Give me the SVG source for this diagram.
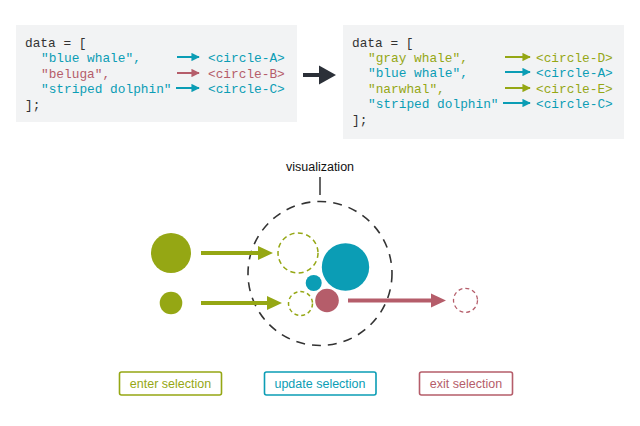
<svg xmlns="http://www.w3.org/2000/svg" width="640" height="426" viewBox="0 0 640 426">
<style>
.code{font-family:"Liberation Mono","DejaVu Sans Mono",monospace;font-size:12.8px;fill:#333}
.g{fill:#95a714}.t{fill:#0b9db5}.p{fill:#b55d6a}
.lbl{font-family:"Liberation Sans",Arial,sans-serif;font-size:12.5px;text-anchor:middle}
.sa{stroke-width:2;fill:none}
</style>
<defs>
<marker id="hg" viewBox="0 0 10 10" refX="9" refY="5" markerWidth="4.2" markerHeight="4.2" orient="auto" markerUnits="strokeWidth"><path d="M0,0L10,5L0,10z" fill="#95a714"/></marker>
<marker id="ht" viewBox="0 0 10 10" refX="9" refY="5" markerWidth="4.2" markerHeight="4.2" orient="auto" markerUnits="strokeWidth"><path d="M0,0L10,5L0,10z" fill="#0b9db5"/></marker>
<marker id="hp" viewBox="0 0 10 10" refX="9" refY="5" markerWidth="4.2" markerHeight="4.2" orient="auto" markerUnits="strokeWidth"><path d="M0,0L10,5L0,10z" fill="#b55d6a"/></marker>
</defs>
<rect width="640" height="426" fill="#fff"/>

<g id="old-data">
<rect x="16" y="25" width="281" height="97" fill="#f2f3f4"/>
<text class="code" x="25" y="47">data = [</text>
<text class="code t" x="41" y="62">"blue whale",</text>
<text class="code p" x="41" y="78">"beluga",</text>
<text class="code t" x="41" y="93">"striped dolphin"</text>
<text class="code" x="25" y="109">];</text>
<text class="code t" x="208" y="62">&lt;circle-A&gt;</text>
<text class="code p" x="208" y="78">&lt;circle-B&gt;</text>
<text class="code t" x="208" y="93">&lt;circle-C&gt;</text>
</g>

<g id="new-data">
<rect x="343" y="25" width="281" height="114" fill="#f2f3f4"/>
<text class="code" x="352" y="47">data = [</text>
<text class="code g" x="368" y="62">"gray whale",</text>
<text class="code t" x="368" y="77">"blue whale",</text>
<text class="code g" x="368" y="93">"narwhal",</text>
<text class="code t" x="368" y="108">"striped dolphin"</text>
<text class="code" x="352" y="124">];</text>
<text class="code g" x="536" y="62">&lt;circle-D&gt;</text>
<text class="code t" x="536" y="77">&lt;circle-A&gt;</text>
<text class="code g" x="536" y="93">&lt;circle-E&gt;</text>
<text class="code t" x="536" y="108">&lt;circle-C&gt;</text>
</g>

<g id="visualization">
<text x="320" y="171" font-family="Liberation Sans, Arial, sans-serif" font-size="12.5" text-anchor="middle" fill="#111">visualization</text>
<line x1="320" y1="177" x2="320" y2="195" stroke="#333" stroke-width="1.5"/>
<circle cx="320" cy="273.5" r="72" fill="none" stroke="#333" stroke-width="1.6" stroke-dasharray="9,7"/>
</g>

<g id="enter-circles">
<circle cx="171" cy="253" r="20" class="g"/>
<circle cx="171" cy="303" r="11.3" class="g"/>
<circle cx="298" cy="253" r="20" fill="none" stroke="#95a714" stroke-width="1.5" stroke-dasharray="5,3.5"/>
<circle cx="300.5" cy="303.5" r="12" fill="none" stroke="#95a714" stroke-width="1.5" stroke-dasharray="4,3"/>
</g>

<g id="update-circles">
<circle cx="345.5" cy="267" r="23.7" class="t"/>
<circle cx="313.7" cy="283" r="8" class="t"/>
</g>

<g id="exit-circles">
<circle cx="327" cy="300.5" r="11.8" class="p"/>
<circle cx="465.5" cy="300.3" r="12" fill="none" stroke="#b55d6a" stroke-width="1.3" stroke-dasharray="4,3"/>
</g>

<g id="connectors">
<line x1="303" y1="75" x2="320" y2="75" stroke="#2b3038" stroke-width="4"/>
<path d="M319,65.5L336,75L319,84.5z" fill="#2b3038"/>

<line x1="177" y1="57" x2="199" y2="57" stroke="#0b9db5" class="sa" marker-end="url(#ht)"/>
<line x1="177" y1="73" x2="199" y2="73" stroke="#b55d6a" class="sa" marker-end="url(#hp)"/>
<line x1="176" y1="88" x2="199" y2="88" stroke="#0b9db5" class="sa" marker-end="url(#ht)"/>

<line x1="505" y1="57" x2="530" y2="57" stroke="#95a714" class="sa" marker-end="url(#hg)"/>
<line x1="505" y1="72" x2="530" y2="72" stroke="#0b9db5" class="sa" marker-end="url(#ht)"/>
<line x1="505" y1="88" x2="530" y2="88" stroke="#95a714" class="sa" marker-end="url(#hg)"/>
<line x1="503" y1="103" x2="530" y2="103" stroke="#0b9db5" class="sa" marker-end="url(#ht)"/>

<line x1="201" y1="253" x2="260" y2="253" stroke="#95a714" stroke-width="4"/>
<path d="M258,246L273,253L258,260z" fill="#95a714"/>
<line x1="201" y1="303" x2="269" y2="303" stroke="#95a714" stroke-width="4"/>
<path d="M267,296L282,303L267,310z" fill="#95a714"/>
<line x1="348" y1="300.5" x2="433" y2="300.5" stroke="#b55d6a" stroke-width="4"/>
<path d="M431,293.5L446,300.5L431,307.5z" fill="#b55d6a"/>
</g>

<g id="legend-enter">
<rect x="119.5" y="372" width="102" height="23" rx="2" fill="#fff" stroke="#95a714" stroke-width="1.6"/>
<text class="lbl g" x="170.5" y="387.5">enter selection</text>
</g>
<g id="legend-update">
<rect x="264.5" y="372" width="111.5" height="23" rx="2" fill="#fff" stroke="#0b9db5" stroke-width="1.6"/>
<text class="lbl t" x="320" y="387.5">update selection</text>
</g>
<g id="legend-exit">
<rect x="419.5" y="372" width="93" height="23" rx="2" fill="#fff" stroke="#b55d6a" stroke-width="1.6"/>
<text class="lbl p" x="466" y="387.5">exit selection</text>
</g>
</svg>
